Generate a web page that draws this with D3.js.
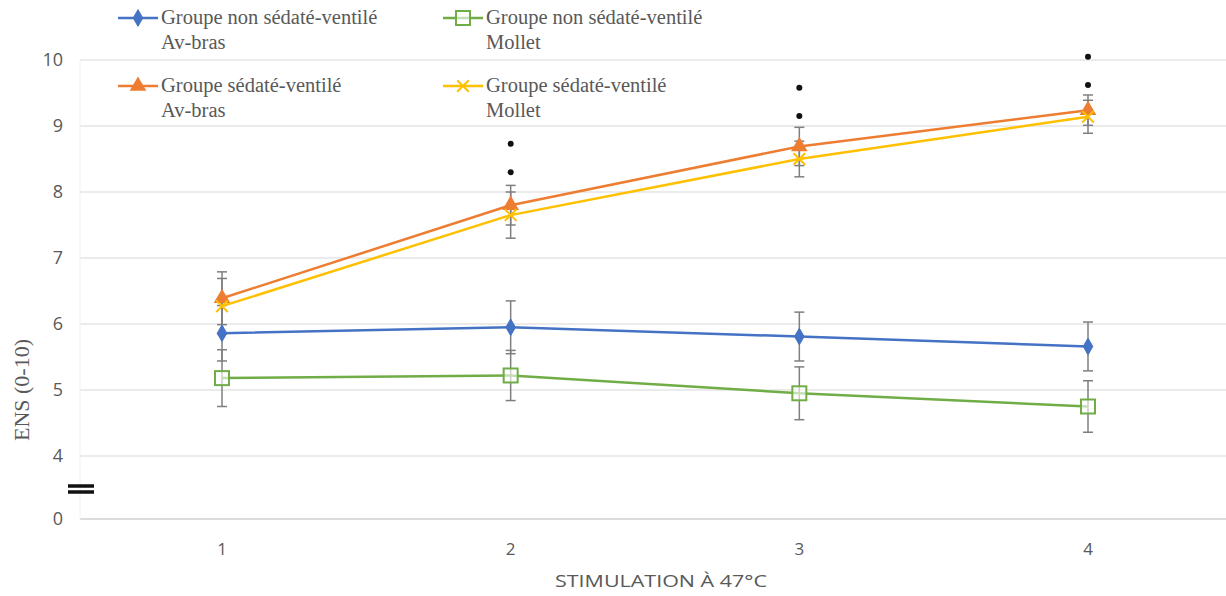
<!DOCTYPE html>
<html>
<head>
<meta charset="utf-8">
<script src="https://cdn.jsdelivr.net/npm/d3@7"></script>
<style>
  body { margin: 0; background: #fff; }
  .tick-label { font-family: "Open Sans", sans-serif; font-size: 17px; fill: #595959; }
  .legend-text { font-family: "Liberation Serif", serif; font-size: 20.5px; fill: #595959; }
</style>
</head>
<body>
<svg id="chart" width="1226" height="596"></svg>
<script>
const stimulations = [1, 2, 3, 4];
const yTicks = [0, 4, 5, 6, 7, 8, 9, 10];

const nonSedAvBras = [5.86, 5.95, 5.81, 5.66];
const nonSedAvBrasErr = [0.42, 0.40, 0.37, 0.37];
const nonSedMollet = [5.18, 5.22, 4.95, 4.75];
const nonSedMolletErr = [0.43, 0.38, 0.40, 0.39];
const sedAvBras = [6.39, 7.80, 8.69, 9.24];
const sedAvBrasErr = [0.40, 0.30, 0.29, 0.23];
const sedMollet = [6.27, 7.65, 8.50, 9.14];
const sedMolletErr = [0.42, 0.35, 0.27, 0.25];

// significance dots above each stimulation
const sigStim = [2, 2, 3, 3, 4, 4];
const sigValue = [8.73, 8.30, 9.58, 9.15, 10.05, 9.62];

const series = [
  { name: "Groupe non sédaté-ventilé", sub: "Av-bras", values: nonSedAvBras, err: nonSedAvBrasErr, color: "#4472C4", marker: "diamond" },
  { name: "Groupe non sédaté-ventilé", sub: "Mollet", values: nonSedMollet, err: nonSedMolletErr, color: "#70AD47", marker: "square" },
  { name: "Groupe sédaté-ventilé", sub: "Av-bras", values: sedAvBras, err: sedAvBrasErr, color: "#ED7D31", marker: "triangle" },
  { name: "Groupe sédaté-ventilé", sub: "Mollet", values: sedMollet, err: sedMolletErr, color: "#FFC000", marker: "cross" }
];

const svg = d3.select("#chart");
const width = +svg.attr("width");

// broken axis: 0..4 squeezed, 4..10 linear
const x = d3.scalePoint().domain(stimulations).range([222, 1088]);
const y = d3.scaleLinear().domain([0, 4, 10]).range([519, 456, 60]);

const plotLeft = 80;

// gridlines
svg.append("g")
  .selectAll("line")
  .data(yTicks)
  .enter()
  .append("line")
  .attr("x1", plotLeft)
  .attr("x2", width)
  .attr("y1", d => y(d))
  .attr("y2", d => y(d))
  .attr("stroke", d => d === 0 ? "#dcdcdc" : "#ebebeb")
  .attr("stroke-width", 2);

svg.append("line")
  .attr("x1", plotLeft).attr("x2", plotLeft)
  .attr("y1", y(10)).attr("y2", y(0))
  .attr("stroke", "#f2f2f2").attr("stroke-width", 1);

// y tick labels
svg.append("g")
  .selectAll("text")
  .data(yTicks)
  .enter()
  .append("text")
  .attr("class", "tick-label")
  .attr("x", 63)
  .attr("y", d => y(d) + 6)
  .attr("text-anchor", "end")
  .style("font-size", "18px")
  .text(d => d);

// x tick labels
svg.append("g")
  .selectAll("text")
  .data(stimulations)
  .enter()
  .append("text")
  .attr("class", "tick-label")
  .attr("x", d => x(d))
  .attr("y", 555)
  .attr("text-anchor", "middle")
  .text(d => d);

svg.append("text")
  .attr("class", "tick-label")
  .attr("x", 661)
  .attr("y", 587)
  .attr("text-anchor", "middle")
  .attr("textLength", 212)
  .attr("lengthAdjust", "spacingAndGlyphs")
  .style("font-size", "17px")
  .text("STIMULATION À 47°C");

svg.append("text")
  .attr("class", "legend-text")
  .attr("transform", "rotate(-90)")
  .attr("x", -390)
  .attr("y", 29)
  .attr("text-anchor", "middle")
  .style("font-size", "22px")
  .text("ENS (0-10)");

// axis break mark
[-3, 3].forEach(off => {
  svg.append("line")
    .attr("x1", 68).attr("x2", 94)
    .attr("y1", 489 + off).attr("y2", 489 + off)
    .attr("stroke", "#111").attr("stroke-width", 3.5);
});

// error bars
series.forEach(s => {
  const g = svg.append("g");
  stimulations.forEach((st, i) => {
    const cx = x(st);
    const top = y(s.values[i] + s.err[i]);
    const bot = y(s.values[i] - s.err[i]);
    g.append("line").attr("x1", cx).attr("x2", cx).attr("y1", top).attr("y2", bot)
      .attr("stroke", "#7f7f7f").attr("stroke-width", 1.5);
    [top, bot].forEach(yy => {
      g.append("line").attr("x1", cx - 5).attr("x2", cx + 5).attr("y1", yy).attr("y2", yy)
        .attr("stroke", "#7f7f7f").attr("stroke-width", 1.5);
    });
  });
});

const line = d3.line()
  .x((d, i) => x(stimulations[i]))
  .y(d => y(d));

function drawMarker(g, type, color, cx, cy) {
  if (type === "diamond") {
    g.append("path")
      .attr("d", d3.symbol().type(d3.symbolDiamond).size(80)())
      .attr("transform", `translate(${cx},${cy})`)
      .attr("fill", color).attr("stroke", color);
  } else if (type === "square") {
    g.append("rect")
      .attr("x", cx - 7).attr("y", cy - 7).attr("width", 14).attr("height", 14)
      .attr("fill", "#fff").attr("fill-opacity", 0.6)
      .attr("stroke", color).attr("stroke-width", 2);
  } else if (type === "triangle") {
    g.append("path")
      .attr("d", d3.symbol().type(d3.symbolTriangle).size(120)())
      .attr("transform", `translate(${cx},${cy})`)
      .attr("fill", color);
  } else {
    g.append("path")
      .attr("d", d3.symbol().type(d3.symbolX).size(90)())
      .attr("transform", `translate(${cx},${cy})`)
      .attr("fill", "none").attr("stroke", color).attr("stroke-width", 2);
  }
}

series.forEach(s => {
  const g = svg.append("g");
  g.append("path")
    .datum(s.values)
    .attr("d", line)
    .attr("fill", "none")
    .attr("stroke", s.color)
    .attr("stroke-width", 2.5);
  s.values.forEach((v, i) => drawMarker(g, s.marker, s.color, x(stimulations[i]), y(v)));
});

// significance dots
svg.append("g")
  .selectAll("circle")
  .data(sigStim)
  .enter()
  .append("circle")
  .attr("cx", d => x(d))
  .attr("cy", (d, i) => y(sigValue[i]))
  .attr("r", 3)
  .attr("fill", "#111");

// legend
const legendPos = [[118, 18], [443, 18], [118, 86], [443, 86]];
series.forEach((s, i) => {
  const [lx, ly] = legendPos[i];
  const g = svg.append("g");
  g.append("line").attr("x1", lx).attr("x2", lx + 40).attr("y1", ly).attr("y2", ly)
    .attr("stroke", s.color).attr("stroke-width", 2.5);
  drawMarker(g, s.marker, s.color, lx + 20, ly);
  g.append("text").attr("class", "legend-text")
    .attr("x", lx + 43).attr("y", ly + 6).text(s.name);
  g.append("text").attr("class", "legend-text")
    .attr("x", lx + 43).attr("y", ly + 31).text(s.sub);
});
</script>
</body>
</html>
